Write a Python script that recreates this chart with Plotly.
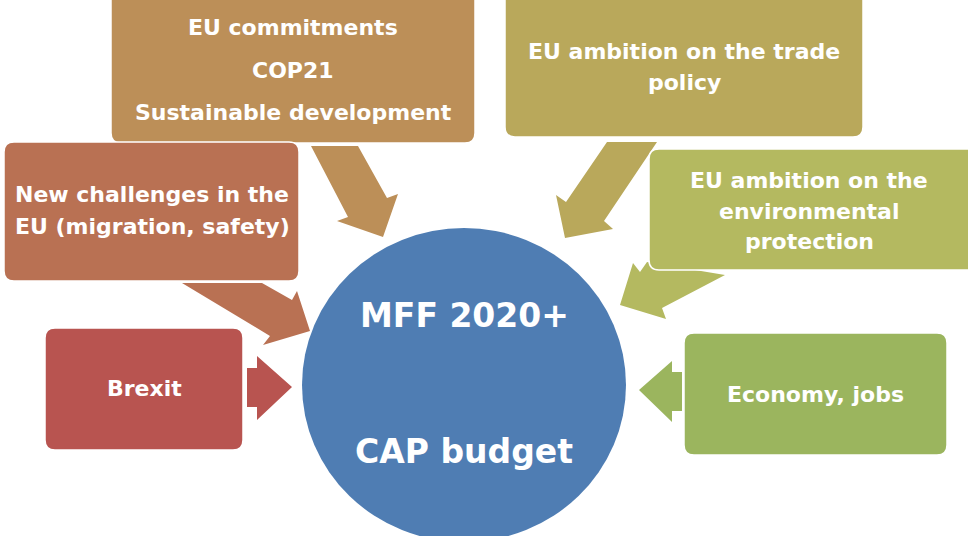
import plotly.graph_objects as go

# ---- content ----
box_labels = [
    ["EU commitments", "COP21", "Sustainable development"],
    ["New challenges in the", "EU (migration, safety)"],
    ["Brexit"],
    ["EU ambition on the trade", "policy"],
    ["EU ambition on the", "environmental", "protection"],
    ["Economy, jobs"],
]
centre_labels = ["MFF 2020+", "CAP budget"]

# ---- styling / geometry (pixel space) ----
box_colors = ["#BC8F58", "#B97153", "#B85450", "#B9A85B", "#B4B960", "#9BB55E"]
box_rects = [  # x0, y0, x1, y1
    (111, -10, 475, 143),
    (4, 142, 299, 281),
    (45, 328, 243, 450),
    (505, -10, 863, 137),
    (649, 149, 980, 270),
    (684, 333, 947, 455),
]
text_x = [293, 152, 144, 684, 809, 815]
text_y = [[27, 70, 112], [194, 226], [388], [51, 82], [180, 211, 241], [394]]

arrows = [
    [(311, 146), (358, 146), (387, 198), (398, 194), (383, 237), (337, 221), (348, 217)],
    [(182, 283), (262, 283), (292, 300), (297, 291), (310, 331), (263, 345), (270, 336)],
    [(247, 368), (257, 368), (257, 356), (292, 387), (257, 420), (257, 407), (247, 407)],
    [(607, 142), (657, 142), (604, 221), (613, 229), (565, 238), (556, 195), (566, 202)],
    [(647, 262), (725, 275), (662, 308), (666, 319), (620, 305), (633, 263), (640, 272)],
    [(682, 372), (672, 372), (672, 361), (639, 390), (672, 422), (672, 411), (682, 411)],
]
circle_color = "#4F7DB3"
circle_box = (302, 228, 626, 542)
centre_y = [315, 451]

FONT = "DejaVu Sans"


def rounded_rect(x0, y0, x1, y1, r=10):
    return (f"M {x0+r},{y0} L {x1-r},{y0} Q {x1},{y0} {x1},{y0+r} "
            f"L {x1},{y1-r} Q {x1},{y1} {x1-r},{y1} L {x0+r},{y1} "
            f"Q {x0},{y1} {x0},{y1-r} L {x0},{y0+r} Q {x0},{y0} {x0+r},{y0} Z")


def poly(pts):
    return "M " + " L ".join(f"{x},{y}" for x, y in pts) + " Z"


shapes = []
for pts, col in zip(arrows, box_colors):
    shapes.append(dict(type="path", path=poly(pts), fillcolor=col,
                       line=dict(width=0), layer="above"))
shapes.append(dict(type="circle", x0=circle_box[0], y0=circle_box[1],
                   x1=circle_box[2], y1=circle_box[3], fillcolor=circle_color,
                   line=dict(width=0), layer="above"))
for rect, col in zip(box_rects, box_colors):
    shapes.append(dict(type="path", path=rounded_rect(*rect), fillcolor=col,
                       line=dict(width=1.5, color="white"), layer="above"))

annotations = []
for lines, x, ys in zip(box_labels, text_x, text_y):
    for line, y in zip(lines, ys):
        annotations.append(dict(x=x, y=y, text=line, showarrow=False,
                                xanchor="center", yanchor="middle",
                                font=dict(family=FONT, size=22, color="white",
                                          weight="bold")))
for line, y in zip(centre_labels, centre_y):
    annotations.append(dict(x=464, y=y, text=line, showarrow=False,
                            xanchor="center", yanchor="middle",
                            font=dict(family=FONT, size=33, color="white",
                                      weight="bold")))

fig = go.Figure()
fig.update_layout(
    width=968, height=536,
    margin=dict(l=0, r=0, t=0, b=0),
    paper_bgcolor="white", plot_bgcolor="white",
    xaxis=dict(range=[0, 968], visible=False, fixedrange=True),
    yaxis=dict(range=[536, 0], visible=False, fixedrange=True),
    shapes=shapes, annotations=annotations, showlegend=False,
)
fig.write_html("out.html",
               config={"displayModeBar": False},
               post_script="document.body.style.margin='0';document.body.style.overflow='hidden';")
